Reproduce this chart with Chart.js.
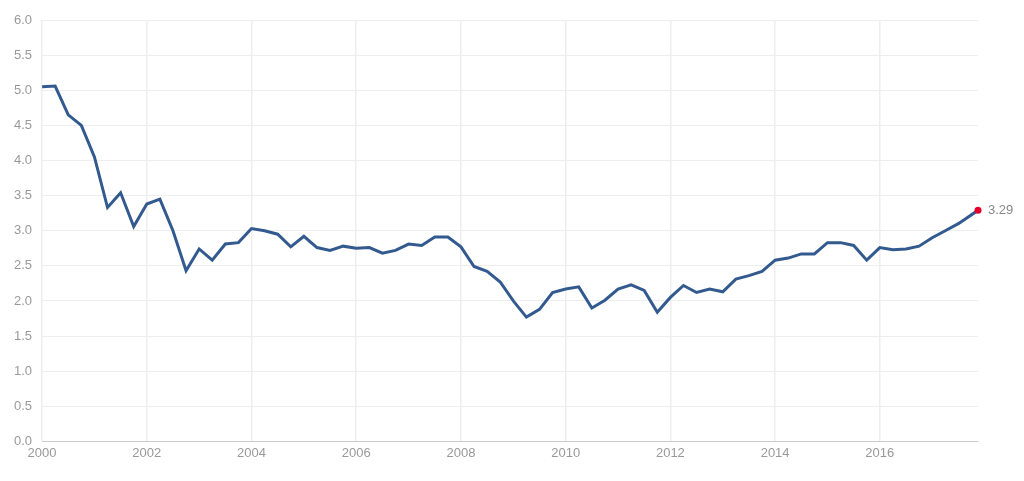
<!DOCTYPE html>
<html><head><meta charset="utf-8">
<script src="https://cdn.jsdelivr.net/npm/chart.js@4"></script>
<style>html,body{margin:0;padding:0;background:#fff}#w{width:1024px;height:481px}</style>
</head><body><div id="w"><canvas id="c"></canvas></div>
<script>
const values = [5.05,5.06,4.65,4.5,4.05,3.33,3.54,3.06,3.38,3.45,3.0,2.43,2.74,2.58,2.81,2.83,3.03,3.0,2.95,2.77,2.92,2.76,2.72,2.78,2.75,2.76,2.68,2.72,2.81,2.79,2.91,2.91,2.77,2.49,2.42,2.27,2.0,1.77,1.88,2.12,2.17,2.2,1.9,2.01,2.17,2.23,2.15,1.84,2.05,2.22,2.12,2.17,2.13,2.31,2.36,2.42,2.58,2.61,2.67,2.67,2.83,2.83,2.79,2.58,2.76,2.73,2.74,2.78,2.9,3.0,3.1,3.29];
const years = values.map((v,i)=> i<values.length-1 ? 2000+i*0.25 : 2017.875);
const yearLabels = [2000,2002,2004,2006,2008,2010,2012,2014,2016];
const pts = years.map((x,i)=>({x, y: values[i]}));
const lastLabel = {id:'lastLabel', afterDatasetsDraw(ch){
  const m = ch.getDatasetMeta(0).data; const p = m[m.length-1]; const c = ch.ctx;
  c.save(); c.fillStyle='#e4002b'; c.beginPath(); c.arc(p.x,p.y,3.5,0,Math.PI*2); c.fill();
  c.fillStyle='#888'; c.font='13px "Liberation Sans"'; c.textBaseline='middle'; c.fillText(values[values.length-1].toFixed(2), p.x+10, p.y); c.restore();
}};
new Chart(document.getElementById('c'), {
  type:'line',
  data:{datasets:[{data:pts, borderColor:'#335a8f', borderWidth:3, pointRadius:0, tension:0}]},
  options:{responsive:true, maintainAspectRatio:false, animation:false,
    layout:{padding:{top:20,right:46,left:4,bottom:16}},
    plugins:{legend:{display:false}, tooltip:{enabled:false}},
    scales:{
      x:{type:'linear', min:2000, max:2017.875,
        afterBuildTicks(s){ s.ticks = yearLabels.map(v=>({value:v})); },
        ticks:{color:'#999', font:{family:'Liberation Sans', size:13}, maxRotation:0, padding:4, callback:v=>String(v)},
        grid:{color:'#eeeeee', drawTicks:false, lineWidth:1.5}, border:{color:'#ccc'}},
      y:{min:0, max:6, ticks:{stepSize:0.5, color:'#999', font:{family:'Liberation Sans', size:13}, callback:v=>v.toFixed(1), padding:10},
        grid:{color:'#eeeeee', drawTicks:false}, border:{display:false}}
    }},
  plugins:[lastLabel]
});
</script></body></html>
